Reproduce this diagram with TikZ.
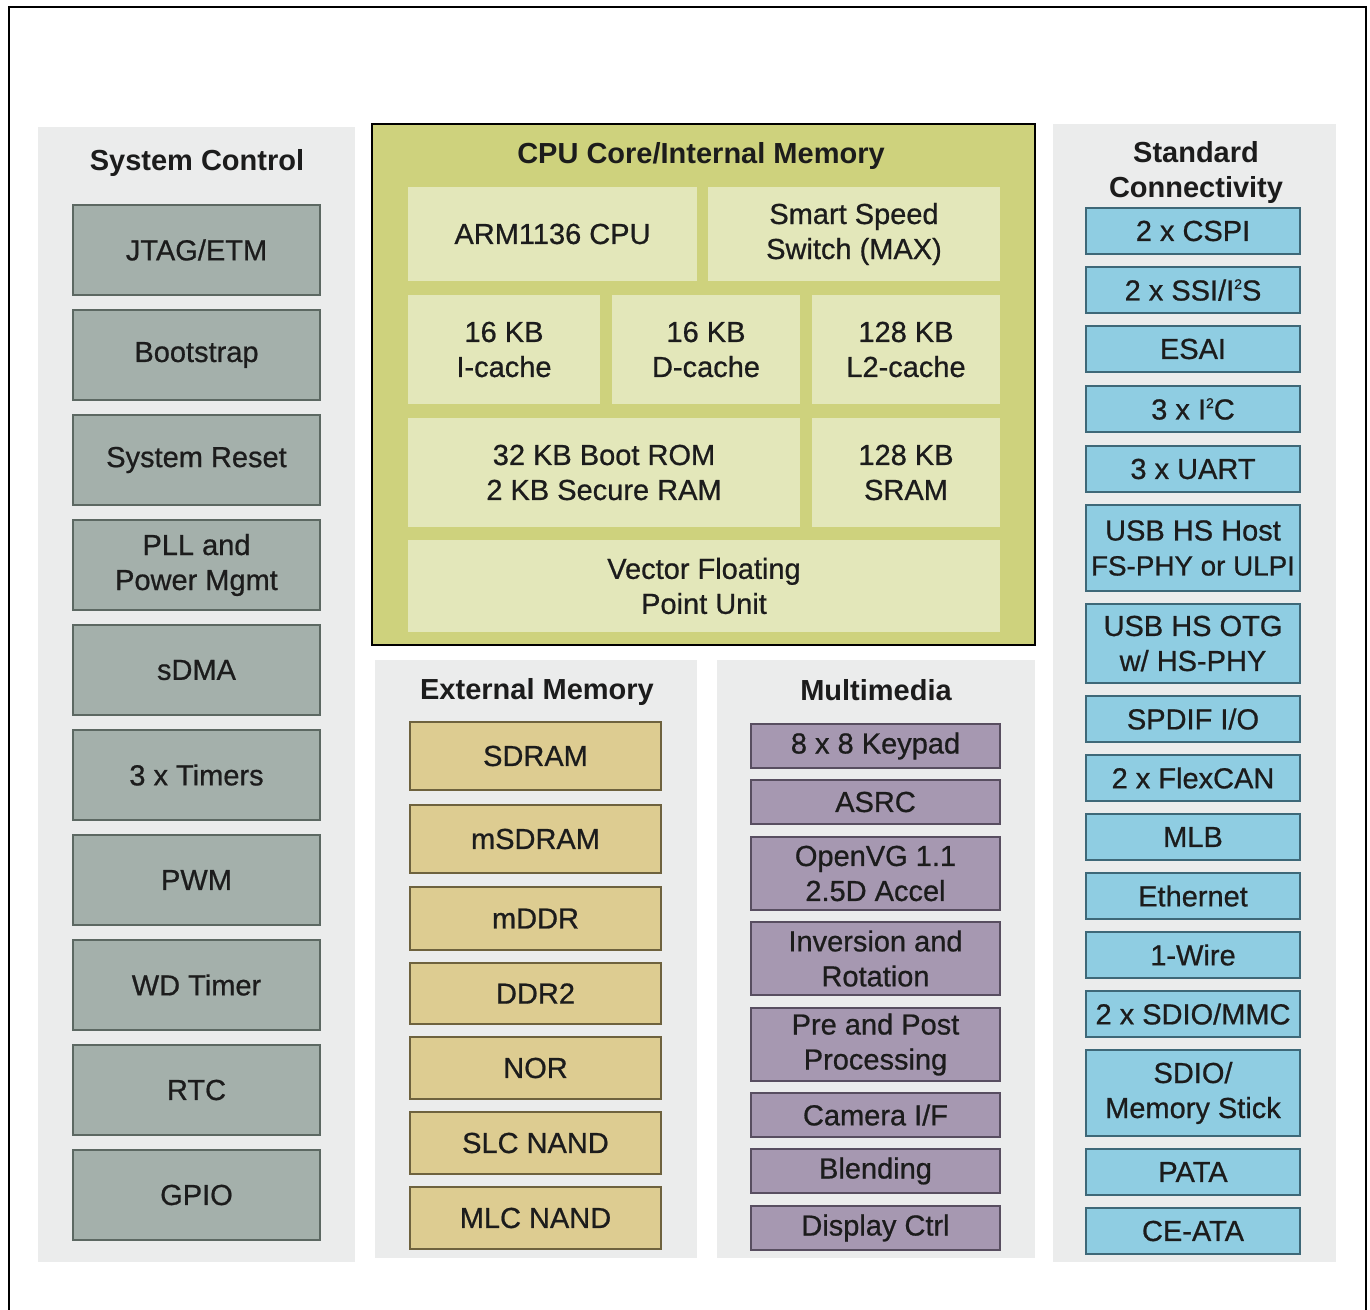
\documentclass[tikz,border=0pt]{standalone}
\usepackage{fontspec}
\setmainfont{Liberation Sans}
\newfontfamily\boxfont[FakeBold=0.7]{Liberation Sans}
\usetikzlibrary{fit}
\definecolor{panelbg}{RGB}{235,236,236}
\definecolor{txt}{RGB}{28,28,28}
\definecolor{sysfill}{RGB}{164,176,171}
\definecolor{sysdraw}{RGB}{92,104,98}
\definecolor{cpufill}{RGB}{206,210,125}
\definecolor{cpuin}{RGB}{227,231,186}
\definecolor{memfill}{RGB}{221,204,145}
\definecolor{memdraw}{RGB}{110,98,62}
\definecolor{mmfill}{RGB}{166,152,177}
\definecolor{mmdraw}{RGB}{88,78,96}
\definecolor{conffill}{RGB}{143,205,226}
\definecolor{condraw}{RGB}{62,104,120}
\newcommand\sq{\raisebox{0.75ex}{\fontsize{7}{7}\selectfont 2}}
\newcommand\bx[5]{\node[#1, fit={(#2) (#3)}] (#4) {};
  \node[blk] (#4-t) at (#4.center) {#5};}
\begin{document}
\begin{tikzpicture}[x=0.5pt,y=-0.5pt,
  blk/.style={inner sep=0pt, outer sep=0pt, align=center, text=txt,
    font=\fontsize{14.5}{17.5}\boxfont},
  head/.style={inner sep=0pt, align=center, text=txt,
    font=\fontsize{14.5}{17.5}\selectfont\bfseries},
  panel/.style={inner sep=0pt, fill=panelbg},
  sysbox/.style={inner sep=0pt, fill=sysfill, draw=sysdraw, line width=0.8pt},
  cpuouter/.style={inner sep=0pt, fill=cpufill, draw=black, line width=1.1pt},
  cpubox/.style={inner sep=0pt, fill=cpuin},
  membox/.style={inner sep=0pt, fill=memfill, draw=memdraw, line width=0.8pt},
  mmbox/.style={inner sep=0pt, fill=mmfill, draw=mmdraw, line width=0.8pt},
  conbox/.style={inner sep=0pt, fill=conffill, draw=condraw, line width=0.8pt}]
\useasboundingbox (0,0) rectangle (1370,1310);
\fill[white] (0,0) rectangle (1370,1310);
\draw[line width=1pt] (9,1310) -- (9,7) -- (1366,7) -- (1366,1310);

% panels
\node[panel, fit={(38,127) (355,1262)}] (psys) {};
\node[cpuouter, fit={(372,124) (1035,645)}] (pcpu) {};
\node[panel, fit={(375,660) (697,1258)}] (pmem) {};
\node[panel, fit={(717,660) (1035,1258)}] (pmm) {};
\node[panel, fit={(1053,124) (1336,1262)}] (pcon) {};

% headings
\node[head] (hsys) at (197,163) {System Control};
\node[head] (hcpu) at (701,156) {CPU Core/Internal Memory};
\node[head] (hmem) at (537,692) {External Memory};
\node[head] (hmm) at (876,690) {Multimedia};
\node[head] (hcon) at (1196,173) {Standard\\Connectivity};

% system control
\bx{sysbox}{73,205}{320,295}{jtag}{JTAG/ETM}
\bx{sysbox}{73,310}{320,400}{boot}{Bootstrap}
\bx{sysbox}{73,415}{320,505}{reset}{System Reset}
\bx{sysbox}{73,520}{320,610}{pll}{PLL and\\Power Mgmt}
\bx{sysbox}{73,625}{320,715}{sdma}{sDMA}
\bx{sysbox}{73,730}{320,820}{timers}{3 x Timers}
\bx{sysbox}{73,835}{320,925}{pwm}{PWM}
\bx{sysbox}{73,940}{320,1030}{wd}{WD Timer}
\bx{sysbox}{73,1045}{320,1135}{rtc}{RTC}
\bx{sysbox}{73,1150}{320,1240}{gpio}{GPIO}

% cpu core
\bx{cpubox}{408,187}{697,281}{arm}{ARM1136 CPU}
\bx{cpubox}{708,187}{1000,281}{sss}{Smart Speed\\Switch (MAX)}
\bx{cpubox}{408,295}{600,404}{icache}{16 KB\\I-cache}
\bx{cpubox}{612,295}{800,404}{dcache}{16 KB\\D-cache}
\bx{cpubox}{812,295}{1000,404}{l2}{128 KB\\L2-cache}
\bx{cpubox}{408,418}{800,527}{rom}{32 KB Boot ROM\\2 KB Secure RAM}
\bx{cpubox}{812,418}{1000,527}{sram}{128 KB\\SRAM}
\bx{cpubox}{408,540}{1000,632}{vfp}{Vector Floating\\Point Unit}

% external memory
\bx{membox}{410,722}{661,790}{sdram}{SDRAM}
\bx{membox}{410,805}{661,873}{msdram}{mSDRAM}
\bx{membox}{410,887}{661,950}{mddr}{mDDR}
\bx{membox}{410,963}{661,1024}{ddr2}{DDR2}
\bx{membox}{410,1037}{661,1099}{nor}{NOR}
\bx{membox}{410,1112}{661,1174}{slc}{SLC NAND}
\bx{membox}{410,1187}{661,1249}{mlc}{MLC NAND}

% multimedia
\bx{mmbox}{751,724}{1000,768}{keypad}{8 x 8 Keypad}
\bx{mmbox}{751,780}{1000,824}{asrc}{ASRC}
\bx{mmbox}{751,837}{1000,910}{openvg}{OpenVG 1.1\\2.5D Accel}
\bx{mmbox}{751,922}{1000,995}{inv}{Inversion and\\Rotation}
\bx{mmbox}{751,1008}{1000,1081}{prepost}{Pre and Post\\Processing}
\bx{mmbox}{751,1093}{1000,1137}{camera}{Camera I/F}
\bx{mmbox}{751,1149}{1000,1193}{blend}{Blending}
\bx{mmbox}{751,1206}{1000,1250}{disp}{Display Ctrl}

% connectivity
\bx{conbox}{1086,208}{1300,254}{cspi}{2 x CSPI}
\bx{conbox}{1086,267}{1300,313}{ssi}{2 x SSI/I\sq S}
\bx{conbox}{1086,326}{1300,372}{esai}{ESAI}
\bx{conbox}{1086,386}{1300,432}{i2c}{3 x I\sq C}
\bx{conbox}{1086,446}{1300,492}{uart}{3 x UART}
\bx{conbox}{1086,505}{1300,591}{usbh}{USB HS Host\\{\fontsize{13.9}{17.5}\boxfont FS-PHY or ULPI}}
\bx{conbox}{1086,604}{1300,683}{usbo}{USB HS OTG\\w/ HS-PHY}
\bx{conbox}{1086,696}{1300,742}{spdif}{SPDIF I/O}
\bx{conbox}{1086,755}{1300,801}{flexcan}{2 x FlexCAN}
\bx{conbox}{1086,814}{1300,860}{mlb}{MLB}
\bx{conbox}{1086,873}{1300,919}{eth}{Ethernet}
\bx{conbox}{1086,932}{1300,978}{wire}{1-Wire}
\bx{conbox}{1086,991}{1300,1037}{sdio}{2 x SDIO/MMC}
\bx{conbox}{1086,1050}{1300,1136}{ms}{SDIO/\\Memory Stick}
\bx{conbox}{1086,1149}{1300,1195}{pata}{PATA}
\bx{conbox}{1086,1208}{1300,1254}{ceata}{CE-ATA}
\end{tikzpicture}
\end{document}
